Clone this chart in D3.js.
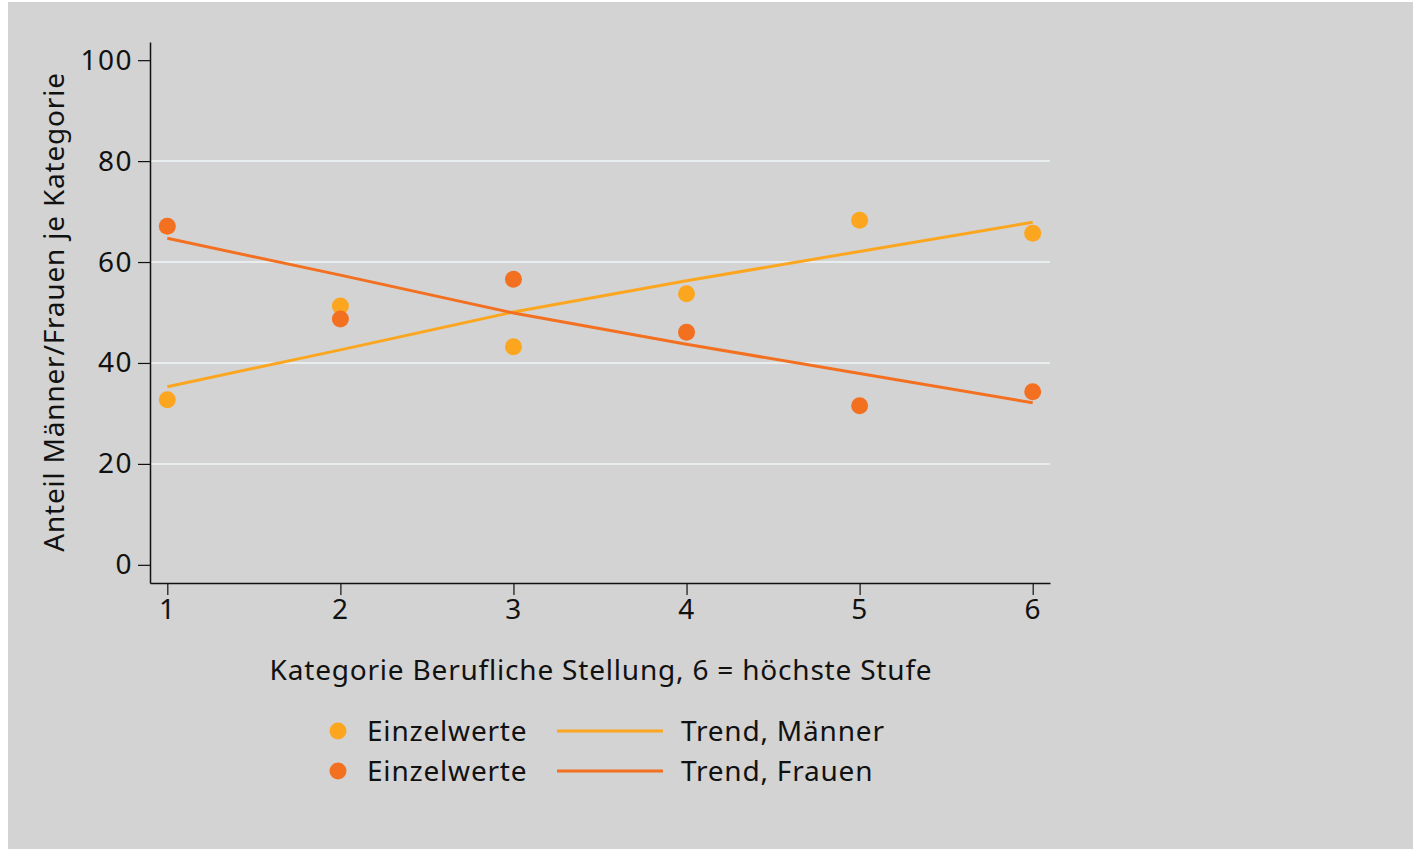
<!DOCTYPE html>
<html>
<head>
<meta charset="utf-8">
<script src="https://cdn.jsdelivr.net/npm/d3@7"></script>
<style>
  html, body { margin: 0; padding: 0; background: #fff; }
  svg { display: block; }
  text { font-family: 'Noto Sans', sans-serif; fill: #111; letter-spacing: 0.8px; }
</style>
</head>
<body>
<svg width="1413" height="849"></svg>
<script>
// ---- Daten
const kategorien = [1, 2, 3, 4, 5, 6];
const maenner = [32.7, 51.3, 43.2, 53.7, 68.3, 65.7];
const frauen = [67.1, 48.7, 56.6, 46.1, 31.5, 34.3];
const trendMaenner = [35.3, 42.6, 50.1, 56.3, 62.1, 67.9];
const trendFrauen = [64.7, 57.4, 49.9, 43.7, 37.9, 32.1];
const yTicks = [0, 20, 40, 60, 80, 100];
const gridTicks = [20, 40, 60, 80];

const farbeMaenner = '#fca61f';
const farbeFrauen = '#f37021';

const svg = d3.select('svg');
const svgWidth = 1413;
const svgHeight = 849;

// Hintergrund
svg.append('rect')
    .attr('x', 8).attr('y', 2)
    .attr('width', svgWidth - 8).attr('height', svgHeight - 2)
    .attr('fill', '#d3d3d3');

// ---- Skalen
const plot = { left: 150, right: 1050, top: 42, bottom: 583 };
const mapX = d3.scaleLinear().domain([0.9, 6.1]).range([plot.left, plot.right]);
const mapY = d3.scaleLinear().domain([-3.6, 103.6]).range([plot.bottom, plot.top]);

// ---- Gitterlinien
svg.append('g')
    .selectAll('line')
    .data(gridTicks)
    .join('line')
    .attr('x1', plot.left).attr('x2', plot.right)
    .attr('y1', d => mapY(d)).attr('y2', d => mapY(d))
    .attr('stroke', '#e8edef')
    .attr('stroke-width', 2);

// ---- Achsen
const yAxis = d3.axisLeft(mapY).tickValues(yTicks).tickSize(12).tickPadding(5).tickSizeOuter(0);
const groupY = svg.append('g')
    .attr('transform', `translate(${plot.left}, 0)`)
    .call(yAxis);

const xAxis = d3.axisBottom(mapX).tickValues(kategorien).tickFormat(d3.format('d'))
    .tickSize(12).tickPadding(4).tickSizeOuter(0);
const groupX = svg.append('g')
    .attr('transform', `translate(0, ${plot.bottom})`)
    .call(xAxis);

[groupX, groupY].forEach(g => {
    g.select('.domain').attr('stroke', '#111').attr('stroke-width', 1.5);
    g.selectAll('.tick line').attr('stroke', '#111').attr('stroke-width', 1.2);
    g.selectAll('.tick text')
        .attr('font-family', "'Noto Sans', sans-serif")
        .attr('font-size', '28px')
        .style('letter-spacing', '1.5px')
        .attr('fill', '#111');
});

// ---- Trendlinien
const line = d3.line().x(d => mapX(d[0])).y(d => mapY(d[1]));

svg.append('path')
    .datum(kategorien.map((x, i) => [x, trendMaenner[i]]))
    .attr('d', line)
    .attr('fill', 'none')
    .attr('stroke', farbeMaenner)
    .attr('stroke-width', 3);

svg.append('path')
    .datum(kategorien.map((x, i) => [x, trendFrauen[i]]))
    .attr('d', line)
    .attr('fill', 'none')
    .attr('stroke', farbeFrauen)
    .attr('stroke-width', 3);

// ---- Punkte
svg.append('g')
    .selectAll('circle')
    .data(maenner)
    .join('circle')
    .attr('cx', (d, i) => mapX(kategorien[i]))
    .attr('cy', d => mapY(d))
    .attr('r', 8.5)
    .attr('fill', farbeMaenner);

svg.append('g')
    .selectAll('circle')
    .data(frauen)
    .join('circle')
    .attr('cx', (d, i) => mapX(kategorien[i]))
    .attr('cy', d => mapY(d))
    .attr('r', 8.5)
    .attr('fill', farbeFrauen);

// ---- Achsentitel
svg.append('text')
    .attr('x', 601)
    .attr('y', 680)
    .attr('text-anchor', 'middle')
    .attr('font-size', '28px')
    .text('Kategorie Berufliche Stellung, 6 = höchste Stufe');

svg.append('text')
    .attr('transform', 'translate(64, 312) rotate(-90)')
    .attr('text-anchor', 'middle')
    .attr('font-size', '28px')
    .text('Anteil Männer/Frauen je Kategorie');

// ---- Legende
const legende = [
    { farbe: farbeMaenner, punkt: 'Einzelwerte', trend: 'Trend, Männer' },
    { farbe: farbeFrauen, punkt: 'Einzelwerte', trend: 'Trend, Frauen' }
];

const items = svg.append('g')
    .selectAll('g')
    .data(legende)
    .join('g')
    .attr('transform', (d, i) => `translate(0, ${731 + i * 40})`);

items.append('circle')
    .attr('cx', 338).attr('cy', 0).attr('r', 8.5)
    .attr('fill', d => d.farbe);

items.append('text')
    .attr('x', 367).attr('y', 10)
    .attr('font-size', '28px')
    .text(d => d.punkt);

items.append('line')
    .attr('x1', 557).attr('x2', 663)
    .attr('y1', 0).attr('y2', 0)
    .attr('stroke', d => d.farbe)
    .attr('stroke-width', 3);

items.append('text')
    .attr('x', 681).attr('y', 10)
    .attr('font-size', '28px')
    .text(d => d.trend);
</script>
</body>
</html>
